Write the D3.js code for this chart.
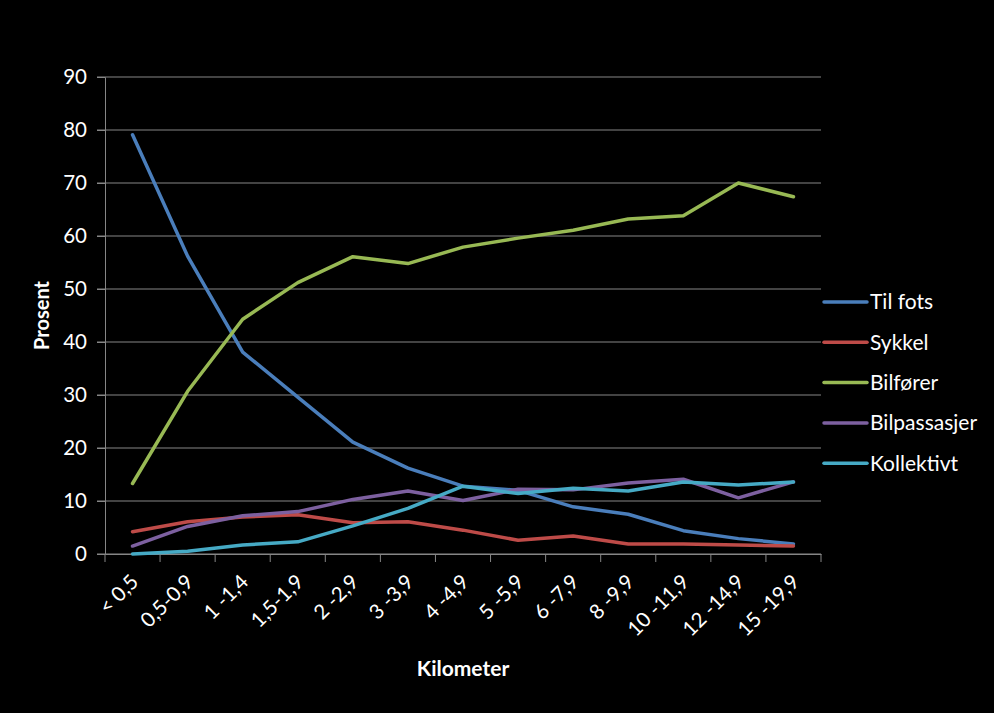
<!DOCTYPE html>
<html>
<head>
<meta charset="utf-8">
<script src="https://cdnjs.cloudflare.com/ajax/libs/d3/7.8.5/d3.min.js"></script>
<style>
  html, body { margin: 0; padding: 0; background: #000; }
  svg text { font-family: Lato, "Open Sans", sans-serif; fill: #fff; }
</style>
</head>
<body>
<div id="chart"></div>
<script>
// kategorier (km) og verdier i prosent
var categories = ["< 0,5", "0,5-0,9", "1 -1,4", "1,5-1,9", "2 -2,9", "3 -3,9", "4 -4,9",
                  "5 -5,9", "6 -7,9", "8 -9,9", "10 -11,9", "12 -14,9", "15 -19,9"];
var tilFots     = [79.1, 56.2, 38.1, 29.6, 21.1, 16.2, 12.8, 12.0, 8.9, 7.5, 4.4, 2.9, 1.9];
var sykkel      = [4.2, 6.1, 7.0, 7.4, 5.9, 6.1, 4.5, 2.6, 3.4, 1.9, 1.9, 1.7, 1.5];
var bilforer    = [13.3, 30.7, 44.3, 51.2, 56.1, 54.8, 57.9, 59.6, 61.1, 63.2, 63.8, 70.0, 67.4];
var bilpassasjer= [1.5, 5.2, 7.2, 8.0, 10.3, 11.9, 10.1, 12.2, 12.1, 13.4, 14.1, 10.6, 13.6];
var kollektivt  = [0.0, 0.5, 1.7, 2.3, 5.3, 8.6, 12.8, 11.4, 12.4, 11.9, 13.6, 13.0, 13.6];
var yTicks = [0, 10, 20, 30, 40, 50, 60, 70, 80, 90];

var seriesNames = ["Til fots", "Sykkel", "Bilfører", "Bilpassasjer", "Kollektivt"];
var seriesData = [tilFots, sykkel, bilforer, bilpassasjer, kollektivt];
var colors = ["#4a7ebb", "#be4b48", "#98b954", "#7d60a0", "#46aac5"];

var svgWidth = 994, svgHeight = 713;
var margin = {top: 77, right: 173, bottom: 159, left: 105};
var width = svgWidth - margin.left - margin.right,
    height = svgHeight - margin.top - margin.bottom;

var svg = d3.select("#chart").append("svg")
    .attr("width", svgWidth)
    .attr("height", svgHeight);

var g = svg.append("g")
    .attr("transform", "translate(" + margin.left + "," + margin.top + ")");

var xScale = d3.scaleBand()
    .domain(categories)
    .range([0, width]);

var yScale = d3.scaleLinear()
    .domain([0, 90])
    .range([height, 0]);

// gridlines
g.selectAll(".grid")
  .data(yTicks)
  .enter()
  .append("line")
  .attr("x1", -8)
  .attr("x2", width)
  .attr("y1", function(d) { return yScale(d); })
  .attr("y2", function(d) { return yScale(d); })
  .attr("stroke", "#868686")
  .attr("stroke-width", 1);

// y axis
var yAxis = g.append("g")
    .call(d3.axisLeft(yScale).tickValues(yTicks).tickSize(8).tickPadding(10));
yAxis.select(".domain").attr("stroke", "#868686");
yAxis.selectAll("line").attr("stroke", "#868686");
yAxis.selectAll("text").style("font-size", "20.5px").attr("fill", "#fff");

// x axis
var xAxis = g.append("g")
    .attr("transform", "translate(0," + height + ")")
    .call(d3.axisBottom(xScale).tickSize(0).tickFormat(""));
xAxis.select(".domain").attr("stroke", "#868686");

// tick marks at band boundaries
var bounds = categories.map(function(c) { return xScale(c); }).concat([width]);
g.selectAll(".xtick")
  .data(bounds)
  .enter()
  .append("line")
  .attr("x1", function(d) { return d; })
  .attr("x2", function(d) { return d; })
  .attr("y1", height)
  .attr("y2", height + 8)
  .attr("stroke", "#868686");

// rotated x labels
g.selectAll(".xlabel")
  .data(categories)
  .enter()
  .append("text")
  .attr("transform", function(d) {
    var x = xScale(d) + xScale.bandwidth() / 2 + 2;
    return "translate(" + x + "," + (height + 24) + ") rotate(-45)";
  })
  .attr("text-anchor", "end")
  .attr("dy", "0.35em")
  .style("font-size", "20.5px")
  .text(function(d) { return d; });

// lines
var line = d3.line()
    .x(function(d, i) { return xScale(categories[i]) + xScale.bandwidth() / 2; })
    .y(function(d) { return yScale(d); });

g.selectAll(".serie")
  .data(seriesData)
  .enter()
  .append("path")
  .attr("d", line)
  .attr("fill", "none")
  .attr("stroke", function(d, i) { return colors[i]; })
  .attr("stroke-width", 3.5)
  .attr("stroke-linejoin", "round")
  .attr("stroke-linecap", "round");

// axis titles
svg.append("text")
  .attr("transform", "translate(49," + (margin.top + height / 2) + ") rotate(-90)")
  .attr("text-anchor", "middle")
  .style("font-size", "20px")
  .style("font-weight", "bold")
  .text("Prosent");

svg.append("text")
  .attr("x", 463)
  .attr("y", 676)
  .attr("text-anchor", "middle")
  .style("font-size", "21px")
  .style("font-weight", "bold")
  .text("Kilometer");

// legend
var legend = svg.selectAll(".legend")
  .data(seriesNames)
  .enter()
  .append("g")
  .attr("transform", function(d, i) { return "translate(824," + (302 + i * 40.3) + ")"; });

legend.append("line")
  .attr("x1", 0)
  .attr("x2", 43)
  .attr("stroke", function(d, i) { return colors[i]; })
  .attr("stroke-width", 3.5)
  .attr("stroke-linecap", "round");

legend.append("text")
  .attr("x", 46)
  .attr("dy", "0.35em")
  .style("font-size", "21px")
  .text(function(d) { return d; });
</script>
</body>
</html>
